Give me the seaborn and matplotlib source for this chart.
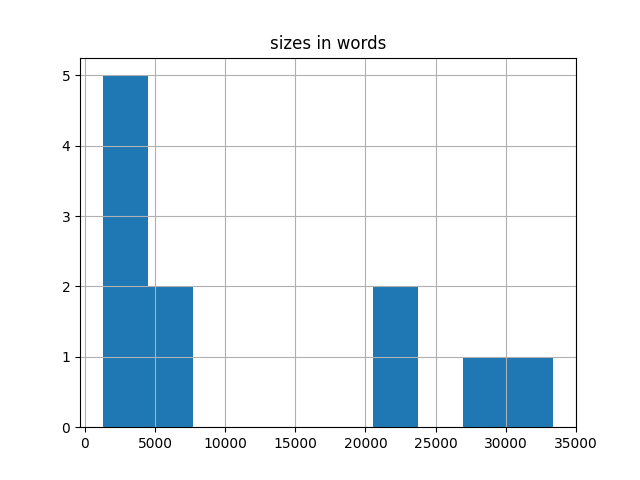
import matplotlib
matplotlib.use("Agg")
import matplotlib.pyplot as plt
import seaborn as sns

title = "sizes in words"
sizes = [1260, 2000, 2800, 3500, 4100, 5500, 6800, 21500, 22800, 28500, 33400]
n_bins = 10

fig, ax = plt.subplots(figsize=(6.4, 4.8), dpi=100)
sns.histplot(x=sizes, bins=n_bins, color="#1f77b4", alpha=1, linewidth=0, ax=ax)
ax.grid(True)
ax.set_title(title)
ax.set_xlabel("")
ax.set_ylabel("")
fig.savefig("out.png", dpi=100)
